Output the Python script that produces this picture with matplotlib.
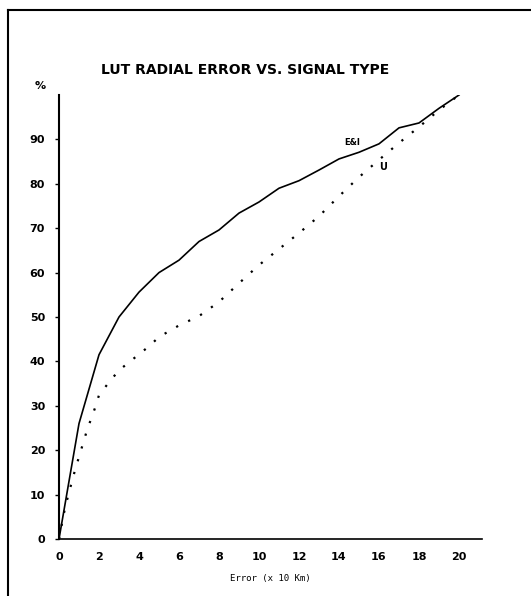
import matplotlib
matplotlib.use("Agg")
import matplotlib.pyplot as plt
from matplotlib.lines import Line2D

# E&I curve (solid)
x_ei = [0, 1, 2, 3, 4, 5, 6, 7, 8, 9, 10, 11, 12, 13, 14, 15, 16, 17, 18, 19, 20]
y_ei = [0, 26, 41.5, 50, 55.6, 60, 62.8, 67, 69.6, 73.4, 75.9, 79, 80.7, 83.1,
        85.6, 87.1, 89, 92.6, 93.7, 97, 100]

# U curve (dotted)
x_u = [0, 0.3, 0.5, 0.8, 1.0, 1.4, 1.8, 2, 2.5, 3, 3.5, 4, 4.5, 5, 5.5, 6, 7, 8,
       9, 10, 11, 12, 13, 14, 15, 16, 17, 18, 19, 20]
y_u = [0, 7, 10.5, 15.5, 18.5, 24.5, 29.5, 32.4, 35.3, 38, 39.8, 41.6, 43.4, 45.5,
       46.8, 48.1, 50.2, 53.4, 57.6, 61.7, 65.3, 68.9, 72.7, 77.2, 81.5, 85.4,
       89.2, 92.8, 96.6, 100]

x_ticks = [0, 2, 4, 6, 8, 10, 12, 14, 16, 18, 20]
y_ticks = [0, 10, 20, 30, 40, 50, 60, 70, 80, 90]

W, H = 531, 596
fig = plt.figure(figsize=(W / 100, H / 100), dpi=100)
ax = fig.add_axes([59 / W, 1 - 539 / H, (482 - 59) / W, (539 - 95) / H])

ax.plot(x_ei, y_ei, color="black", linewidth=1.2)
ax.plot(x_u, y_u, color="black", linewidth=1.6, linestyle=(0, (1, 5)))

ax.set_xlim(0, 21.15)
ax.set_ylim(0, 100)

# curve labels
ax.text(14.65, 89.4, "E&I", fontsize=6, fontweight="bold", ha="center", va="center")
ax.text(16.2, 83.8, "U", fontsize=7, fontweight="bold", ha="center", va="center")

# axes styling
for side in ["top", "right"]:
    ax.spines[side].set_visible(False)
ax.spines["left"].set_linewidth(1.5)
ax.spines["bottom"].set_linewidth(1.2)

ax.set_xticks(x_ticks)
ax.set_yticks(y_ticks)
ax.tick_params(axis="x", length=0, pad=9, labelsize=8)
ax.tick_params(axis="y", length=3, width=1, direction="out", pad=7, labelsize=8)
for lab in ax.get_xticklabels() + ax.get_yticklabels():
    lab.set_fontweight("bold")

ax.set_xlabel("Error (x 10 Km)", fontsize=6.5, family="DejaVu Sans Mono", labelpad=9)

fig.text(245 / W, 1 - 70 / H, "LUT RADIAL ERROR VS. SIGNAL TYPE",
         fontsize=10, fontweight="bold", ha="center", va="center")
fig.text(40 / W, 1 - 86 / H, "%", fontsize=8, fontweight="bold", ha="center", va="center")

# scanned page frame (left and top edges)
fig.add_artist(Line2D([8 / W, 8 / W], [0, 1 - 10 / H], color="black", linewidth=1.5,
                      transform=fig.transFigure))
fig.add_artist(Line2D([8 / W, 1], [1 - 10 / H, 1 - 10 / H], color="black", linewidth=1.5,
                      transform=fig.transFigure))

fig.savefig("out.png", dpi=100)
